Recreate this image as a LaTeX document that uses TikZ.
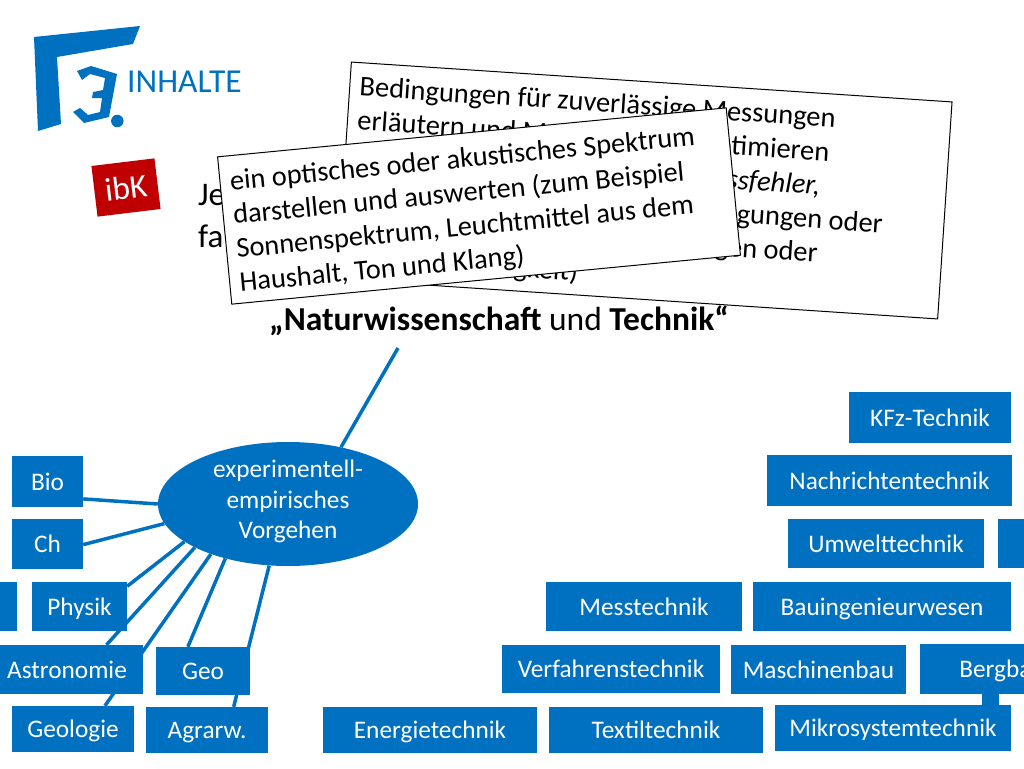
\documentclass[tikz,border=0pt]{standalone}
\usepackage{fontspec}
\setmainfont{Carlito}
\usetikzlibrary{shapes.geometric,backgrounds}
\definecolor{ibblue}{HTML}{0070C0}
\definecolor{ibred}{HTML}{C00000}
\tikzset{
  bluebox/.style={rectangle,fill=ibblue,text=white,inner sep=0pt,align=center,
    font=\fontsize{25.3}{29}\selectfont,text height=21pt,text depth=4pt},
  conn/.style={draw=ibblue,line width=3.5pt},
  notebox/.style={rectangle,draw=black,line width=1pt,fill=white,inner sep=0pt},
}
\newcommand{\bx}[6]{\node[bluebox,minimum width={#4-#2},minimum height={#5-#3}] (#1) at ({(#2+#4)/2},{(#3+#5)/2}) {#6};}
\newcommand{\nl}[3]{\noindent\hbox to #1pt{#2\hfill #3}\par}
\begin{document}
\begin{tikzpicture}[x=1pt,y=-1pt]
\useasboundingbox (0,0) rectangle (1024,768);
% logo
\fill[ibblue] (34,37) -- (140,26) -- (133,44) -- (57,57) -- (61,124) -- (38,131) -- cycle;
\fill[ibblue] (77,71) -- (91,66) -- (117,74) -- (109,117) -- (84,123) -- (73,112) -- (80,108) -- (88,115) -- (100,112) -- (102,98) -- (92,98) -- (93,92) -- (103,90) -- (105,78) -- (90,74) -- (82,80) -- cycle;
\node[circle,fill=ibblue,inner sep=0pt,minimum size=12.5pt] (dot) at (117.3,121) {};
\node[text=ibblue,font=\fontsize{33.5}{36}\selectfont,anchor=west,inner sep=0pt] (title) at (127,82) {INHALTE};
\node[fill=ibred,text=white,rotate=6.9,minimum width=63.5pt,minimum height=51pt,inner sep=0pt,font=\fontsize{33}{36}\selectfont] (ibk) at (126,187.5) {ibK};
% partly covered text
\node[anchor=base west,inner sep=0pt,font=\fontsize{33}{36}\selectfont] (je) at (198,205) {Je};
\node[anchor=base west,inner sep=0pt,font=\fontsize{33}{36}\selectfont] (fa) at (198,247) {fa};
\node[anchor=base west,inner sep=0pt,font=\fontsize{33.5}{36}\selectfont] (head) at (269,330) {\textbf{„Naturwissenschaft} und \textbf{Technik“}};
% notes
\node[notebox,rotate=-3.8,minimum width=602pt,minimum height=217.5pt,font=\fontsize{28.5}{34}\selectfont] (noteA) at (644.5,190.5) {%
\vbox{\hsize=582pt\baselineskip=34pt\parindent=0pt
\vspace*{4pt}
\nl{477}{Bedingungen für zuverlässige Messungen}{}
\nl{473}{erläutern und Messungen}{optimieren}
\nl{466}{}{\textit{Messfehler,}}
\nl{531}{}{Bedingungen oder}
\nl{468}{}{Messungen oder}
\nl{230}{}{Genauigkeit)}
}};
\node[notebox,rotate=5.5,minimum width=511pt,minimum height=148pt,font=\fontsize{28.4}{34}\selectfont] (noteB) at (479,206) {%
\vbox{\hsize=491pt\baselineskip=34pt\parindent=0pt
\vspace*{8pt}
\noindent ein optisches oder akustisches Spektrum\par
\noindent darstellen und auswerten (zum Beispiel\par
\noindent Sonnenspektrum, Leuchtmittel aus dem\par
\noindent Haushalt, Ton und Klang)\par
}};
% left boxes
\node[ellipse,fill=ibblue,text=white,inner sep=-12pt,minimum width=260pt,minimum height=124pt,align=center,font=\fontsize{25.3}{30.5}\selectfont] (exp) at (288,504) {experimentell-\\empirisches\\Vorgehen\rule[-9pt]{0pt}{0pt}};
\bx{bio}{12}{456}{83}{507}{Bio}
\bx{ch}{12}{519}{83}{569}{Ch}
\bx{lbox}{-60}{582}{17}{631}{}
\bx{physik}{32}{582}{127}{631}{Physik}
\bx{astro}{-9}{645}{143}{694}{Astronomie}
\bx{geo}{156}{647}{250}{695}{Geo}
\bx{geol}{12}{706}{134}{752}{Geologie}
\bx{agrar}{146}{707}{268}{753}{Agrarw.}
% right boxes
\bx{energie}{323}{707}{537}{753}{Energietechnik}
\bx{textil}{549}{707}{763}{753}{Textiltechnik}
\bx{mikro}{775}{705}{1011}{751}{Mikrosystemtechnik}
\bx{verf}{502}{645}{720}{693}{Verfahrenstechnik}
\bx{masch}{731}{645}{906}{694}{Maschinenbau}
\bx{berg}{920}{644}{1084}{694}{Bergbau}
\bx{mess}{546}{582}{742}{631}{Messtechnik}
\bx{bau}{753}{582}{1011}{631}{Bauingenieurwesen}
\bx{umwelt}{788}{519}{984}{568}{Umwelttechnik}
\bx{rbox}{998}{519}{1090}{568}{}
\bx{nach}{767}{455}{1012}{506}{Nachrichtentechnik}
\bx{kfz}{849}{392}{1011}{443}{KFz-Technik}
\coordinate (topend) at (398,348);
\begin{scope}[on background layer]
\draw[conn] (exp.47.6) -- (topend);
\draw[conn] (exp.180) -- (bio.-26.2);
\draw[conn] (exp.189.2) -- (ch.-1.6);
\draw[conn] (exp.200.7) -- (physik.23.3);
\draw[conn] (exp.205.6) -- (astro.32.1);
\draw[conn] (exp.213.5) -- (geol.36.6);
\draw[conn] (exp.221.6) -- (geo.122);
\draw[conn] (exp.253.8) -- (agrar.41.5);
\draw[draw=ibblue,line width=17pt] (berg.south -| 990.5,0) -- (mikro.north -| 990.5,0);
\end{scope}
\end{tikzpicture}
\end{document}
